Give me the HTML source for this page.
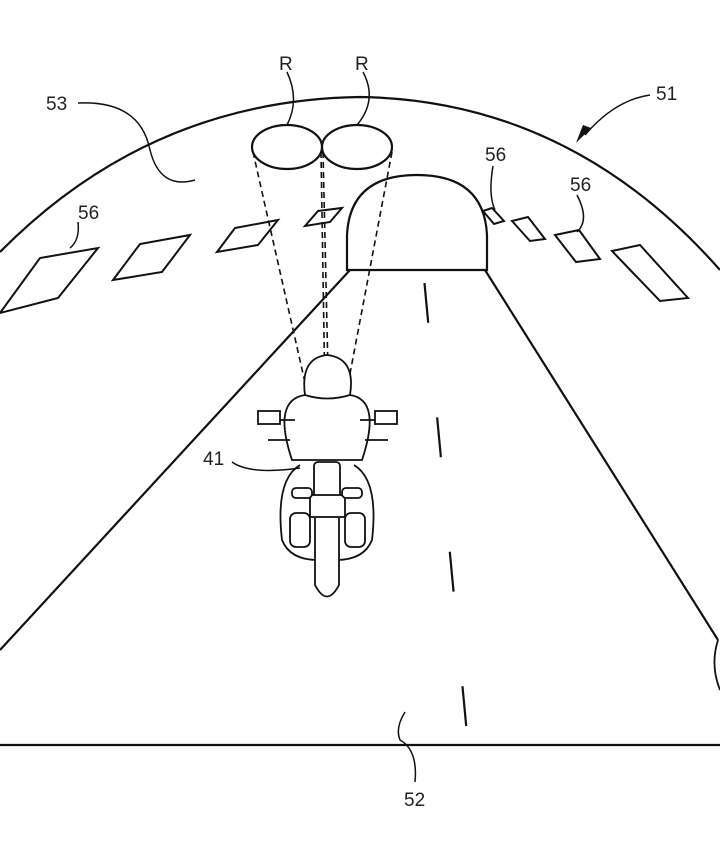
<!DOCTYPE html>
<html><head><meta charset="utf-8"><style>body{margin:0;background:#fff}svg{display:block}text{font-family:"Liberation Sans",sans-serif;font-size:19px;fill:#222}</style></head><body>
<svg width="720" height="845" viewBox="0 0 720 845" fill="none" stroke="#111" stroke-width="2.2">
<path d="M0,252 Q150,100 360,97 Q570,100 720,270"/>
<path d="M0,650 L350,270 M718,640 L485,270 M0,745 L720,745"/>
<path d="M347,270 L347,235 Q350,175 417,175 Q484,175 487,235 L487,270 Z" fill="#fff"/>
<path d="M424,278 L468,745" stroke-dasharray="40 95" stroke-dashoffset="-5"/>
<g stroke-width="2">
<path d="M0,313 L40,258 L98,248 L58,298 Z"/>
<path d="M113,280 L140,244 L190,235 L162,272 Z"/>
<path d="M217,252 L235,228 L278,220 L258,245 Z"/>
<path d="M305,226 L318,211 L342,208 L330,222 Z"/>
<path d="M483,211 L492,208 L504,221 L494,224 Z"/>
<path d="M512,221 L528,217 L545,239 L530,241 Z"/>
<path d="M555,235 L579,230 L600,259 L576,262 Z"/>
<path d="M612,251 L640,245 L688,298 L660,301 Z"/>
</g>
<ellipse cx="287" cy="147" rx="35" ry="22"/>
<ellipse cx="357" cy="147" rx="35" ry="22"/>
<g stroke-width="1.6" stroke-dasharray="6 4">
<path d="M253,152 L322,458 M321,152 L326,458 M323,152 L330,458 M392,152 L334,458"/>
</g>
<g stroke-width="1.8" fill="#fff">
<path d="M292,460 Q272,400 305,395 Q300,358 327,355 Q356,358 350,395 Q382,400 362,460 Z"/>
<path d="M305,395 Q327,402 350,395"/>
<rect x="258" y="411" width="22" height="13"/><rect x="375" y="411" width="22" height="13"/>
<path d="M280,420 L295,420 M360,420 L375,420 M268,440 L290,440 M365,440 L388,440"/>
<path d="M300,465 Q275,480 282,540 Q290,560 318,560 M354,465 Q379,480 372,540 Q364,560 336,560"/>
<rect x="290" y="513" width="20" height="34" rx="6"/><rect x="345" y="513" width="20" height="34" rx="6"/>
<rect x="314" y="462" width="26" height="38" rx="4"/>
<rect x="310" y="495" width="35" height="22"/>
<path d="M315,518 L315,585 Q327,608 339,585 L339,518"/>
<rect x="292" y="488" width="20" height="10" rx="4"/><rect x="342" y="488" width="20" height="10" rx="4"/>
</g>
<path d="M718,640 Q710,665 720,690" stroke-width="1.8"/>
<g stroke-width="1.5">
<path d="M78,103 Q140,100 150,150 Q160,190 195,180"/>
<path d="M287,72 Q300,100 287,125"/>
<path d="M363,72 Q378,100 357,125"/>
<path d="M650,95 Q615,100 585,135"/>
<path d="M78,222 Q80,240 70,248"/>
<path d="M493,166 Q488,195 495,210"/>
<path d="M577,195 Q590,220 577,232"/>
<path d="M232,462 Q250,475 300,468"/>
<path d="M415,782 Q418,750 400,740 Q395,728 405,712"/>
</g>
<path d="M576,143 L591,128 L583,125 Z" fill="#111" stroke="none"/>
<g stroke="none">
<text x="46" y="110">53</text>
<text x="279" y="70">R</text><text x="355" y="70">R</text>
<text x="656" y="100">51</text>
<text x="78" y="219">56</text>
<text x="485" y="161">56</text>
<text x="570" y="191">56</text>
<text x="203" y="465">41</text>
<text x="404" y="806">52</text>
</g>
</svg>
</body></html>
